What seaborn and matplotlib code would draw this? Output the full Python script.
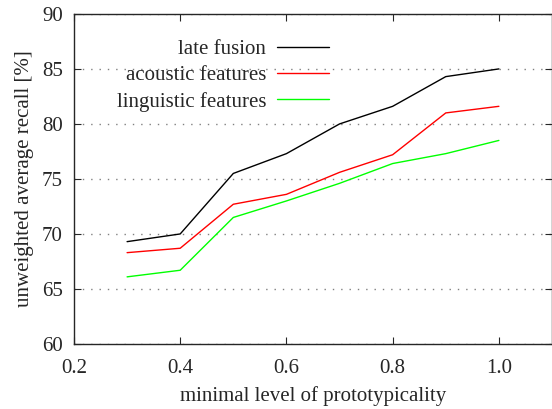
import matplotlib
matplotlib.use("Agg")
import matplotlib.pyplot as plt
import seaborn as sns
import pandas as pd

# values
levels = [0.3, 0.4, 0.5, 0.6, 0.7, 0.8, 0.9, 1.0]
late_fusion = [69.3, 70.0, 75.5, 77.3, 80.0, 81.6, 84.3, 85.0]
acoustic = [68.3, 68.7, 72.7, 73.6, 75.6, 77.2, 81.0, 81.6]
linguistic = [66.1, 66.7, 71.5, 73.0, 74.6, 76.4, 77.3, 78.5]
series_names = ["late fusion", "acoustic features", "linguistic features"]
colors = ["black", "red", "#00ff00"]

df = pd.concat([
    pd.DataFrame({"level": levels, "uar": vals, "series": name})
    for name, vals in zip(series_names, [late_fusion, acoustic, linguistic])
])

sns.set_style("ticks")
plt.rcParams["font.family"] = ["Liberation Serif", "DejaVu Serif"]
fs = 15

fig = plt.figure(figsize=(5.52, 4.09), dpi=100)
ax = fig.add_axes([0.134, 0.159, 0.866, 0.807])

sns.lineplot(data=df, x="level", y="uar", hue="series", hue_order=series_names,
             palette=colors, linewidth=1, ax=ax)

ax.set_xlim(0.2, 1.1)
ax.set_ylim(60, 90)
ax.set_xticks([0.2, 0.4, 0.6, 0.8, 1.0])
ax.set_xticklabels(["0.2", "0.4", "0.6", "0.8", "1.0"])
ax.set_yticks([60, 65, 70, 75, 80, 85, 90])
ax.tick_params(direction="in", top=True, right=True, length=5, labelsize=fs)
ax.tick_params(axis="x", pad=11)
ax.tick_params(axis="y", pad=8)
for s in ax.spines.values():
    s.set_linewidth(1)
ax.yaxis.grid(True, linestyle=(0, (1, 5)), color="gray", linewidth=1)
ax.set_xlabel("minimal level of prototypicality", fontsize=fs, labelpad=6)
ax.set_ylabel("unweighted average recall [%]", fontsize=fs, labelpad=6)

handles, labels = ax.get_legend_handles_labels()
ax.legend(handles, labels, loc="upper left", bbox_to_anchor=(0.05, 0.98),
          markerfirst=False, frameon=False, fontsize=fs, handlelength=2.5,
          handletextpad=0.5, labelspacing=0.32)

fig.savefig("out.png", dpi=100)
